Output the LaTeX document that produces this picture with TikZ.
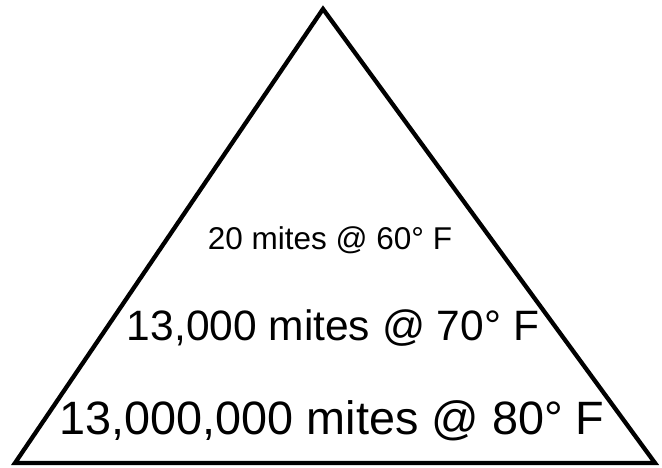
\documentclass[tikz,border=0pt]{standalone}
\usepackage{fontspec}
\setmainfont{Liberation Sans}
\begin{document}
\begin{tikzpicture}[x=1pt,y=1pt,
  lbl/.style={anchor=base, inner sep=0pt, text=black}]
\useasboundingbox (0,0) rectangle (662,-468);
\coordinate (apex) at (323,-9);
\coordinate (bl) at (15,-463);
\coordinate (br) at (655,-463);
\draw[line width=4.3pt, line join=miter] (bl) -- (apex) -- (br) -- cycle;
\node[lbl, font=\fontsize{31.5}{31.5}\selectfont] (t1) at (330,-250) {20 mites @ 60° F};
\node[lbl, font=\fontsize{42.5}{42.5}\selectfont] (t2) at (333,-340) {13,000 mites @ 70° F};
\node[lbl, font=\fontsize{46.8}{46.8}\selectfont] (t3) at (332,-434) {13,000,000 mites @ 80° F};
\end{tikzpicture}
\end{document}
